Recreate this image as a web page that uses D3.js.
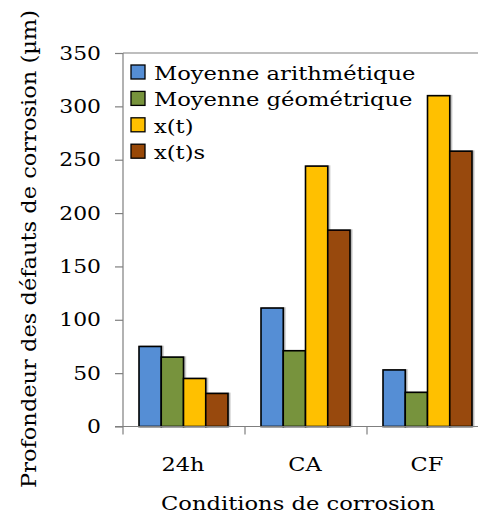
<!DOCTYPE html>
<html>
<head>
<meta charset="utf-8">
<script src="https://cdn.jsdelivr.net/npm/d3@7"></script>
<style>
  html, body { margin: 0; padding: 0; background: #fff; }
  svg { display: block; }
  text { font-family: "DejaVu Serif", "Liberation Serif", serif; fill: #000; }
</style>
</head>
<body>
<svg id="chart" width="478" height="515"></svg>
<script>
// Conditions de corrosion (groups on the x axis)
const categories = ["24h", "CA", "CF"];
// Series names, shown in the legend
const seriesNames = ["Moyenne arithmétique", "Moyenne géométrique", "x(t)", "x(t)s"];
// Depth of corrosion defects (µm) per series, one value per condition
const moyenneArithmetique = [75, 111, 53];
const moyenneGeometrique = [65, 71, 32];
const xt = [45, 244, 310];
const xts = [31, 184, 258];
// Y axis tick values
const yTicks = [0, 50, 100, 150, 200, 250, 300, 350];

const seriesValues = [moyenneArithmetique, moyenneGeometrique, xt, xts];
const colors = ["#558ed5", "#77933c", "#ffc000", "#984807"];

const svg = d3.select("#chart");
const plotLeft = 123, plotRight = 489, plotTop = 53, plotBottom = 426.5;

const x0 = d3.scaleBand().domain(categories).range([plotLeft, plotRight]).paddingInner(0).paddingOuter(0);
const x1 = d3.scaleBand().domain(d3.range(4)).range([16, x0.bandwidth() - 17]).padding(0);
const y = d3.scaleLinear().domain([0, 350]).range([plotBottom, plotTop]);

const axisColor = "#7f7f7f";

// widen the serif glyphs horizontally, keeping their anchor
function widen(sel, k) {
  sel.each(function () {
    const len = this.getComputedTextLength();
    d3.select(this).attr("textLength", len * k).attr("lengthAdjust", "spacingAndGlyphs");
  });
}

// top frame line of the plot area
svg.append("line")
  .attr("x1", plotLeft).attr("x2", 478).attr("y1", plotTop).attr("y2", plotTop)
  .attr("stroke", axisColor).attr("stroke-width", 1.2);

// bar shadows
const defs = svg.append("defs");
const f = defs.append("filter").attr("id", "shadow").attr("x", "-20%").attr("y", "-5%").attr("width", "150%").attr("height", "120%");
f.append("feDropShadow").attr("dx", 1.5).attr("dy", 0).attr("stdDeviation", 0.6)
  .attr("flood-color", "#000").attr("flood-opacity", 0.3);

// bars
const groups = svg.append("g").selectAll("g")
  .data(categories)
  .join("g")
  .attr("transform", c => `translate(${x0(c)},0)`);

groups.selectAll("rect")
  .data((c, ci) => seriesValues.map((vals, si) => ({ si, v: vals[ci] })))
  .join("rect")
  .attr("x", d => x1(d.si))
  .attr("width", x1.bandwidth())
  .attr("y", d => y(d.v))
  .attr("height", d => y(0) - y(d.v))
  .attr("fill", d => colors[d.si])
  .attr("stroke", "#000")
  .attr("stroke-width", 1.6)
  .attr("filter", "url(#shadow)");

// y axis
const yAxis = d3.axisLeft(y).tickValues(yTicks).tickSize(8).tickPadding(14).tickSizeOuter(0);
const gy = svg.append("g").attr("transform", `translate(${plotLeft},0)`).call(yAxis);
gy.select(".domain").remove();
gy.append("line").attr("x1", 0).attr("x2", 0).attr("y1", plotTop).attr("y2", plotBottom + 8)
  .attr("stroke", axisColor).attr("stroke-width", 1.2);
gy.selectAll(".tick line").attr("stroke", axisColor).attr("stroke-width", 1.2);
const tickTexts = gy.selectAll(".tick text")
  .attr("font-size", 19).attr("font-family", "DejaVu Serif").attr("fill", "#000");
widen(tickTexts, 1.15);

// x axis with ticks at band boundaries
svg.append("line")
  .attr("x1", plotLeft - 8).attr("x2", 478).attr("y1", plotBottom).attr("y2", plotBottom)
  .attr("stroke", axisColor).attr("stroke-width", 1.2);
const boundaries = categories.slice(1).map(c => x0(c));
svg.append("g").selectAll("line")
  .data(boundaries)
  .join("line")
  .attr("x1", d => d).attr("x2", d => d)
  .attr("y1", plotBottom).attr("y2", plotBottom + 8)
  .attr("stroke", axisColor).attr("stroke-width", 1.2);

const catLabels = svg.append("g").selectAll("text")
  .data(categories)
  .join("text")
  .attr("x", c => x0(c) + x0.bandwidth() / 2 - 1)
  .attr("y", 471)
  .attr("text-anchor", "middle")
  .attr("font-size", 19)
  .text(c => c);
widen(catLabels, 1.18);

// axis titles
const xTitle = svg.append("text")
  .attr("x", 298).attr("y", 510)
  .attr("text-anchor", "middle")
  .attr("font-size", 19)
  .text("Conditions de corrosion");
widen(xTitle, 1.19);

const yTitle = svg.append("text")
  .attr("transform", "translate(36,249) rotate(-90)")
  .attr("text-anchor", "middle")
  .attr("font-size", 20)
  .text("Profondeur des défauts de corrosion (µm)");
yTitle.attr("textLength", 478).attr("lengthAdjust", "spacingAndGlyphs");

// legend
const legend = svg.append("g").selectAll("g")
  .data(seriesNames)
  .join("g")
  .attr("transform", (d, i) => `translate(131,${65 + i * 26.4})`);
legend.append("rect")
  .attr("width", 14).attr("height", 14)
  .attr("fill", (d, i) => colors[i])
  .attr("stroke", "#000").attr("stroke-width", 1.3);
const legendTexts = legend.append("text")
  .attr("x", 23).attr("y", 15)
  .attr("font-size", 19)
  .text(d => d);
widen(legendTexts, 1.19);
</script>
</body>
</html>
